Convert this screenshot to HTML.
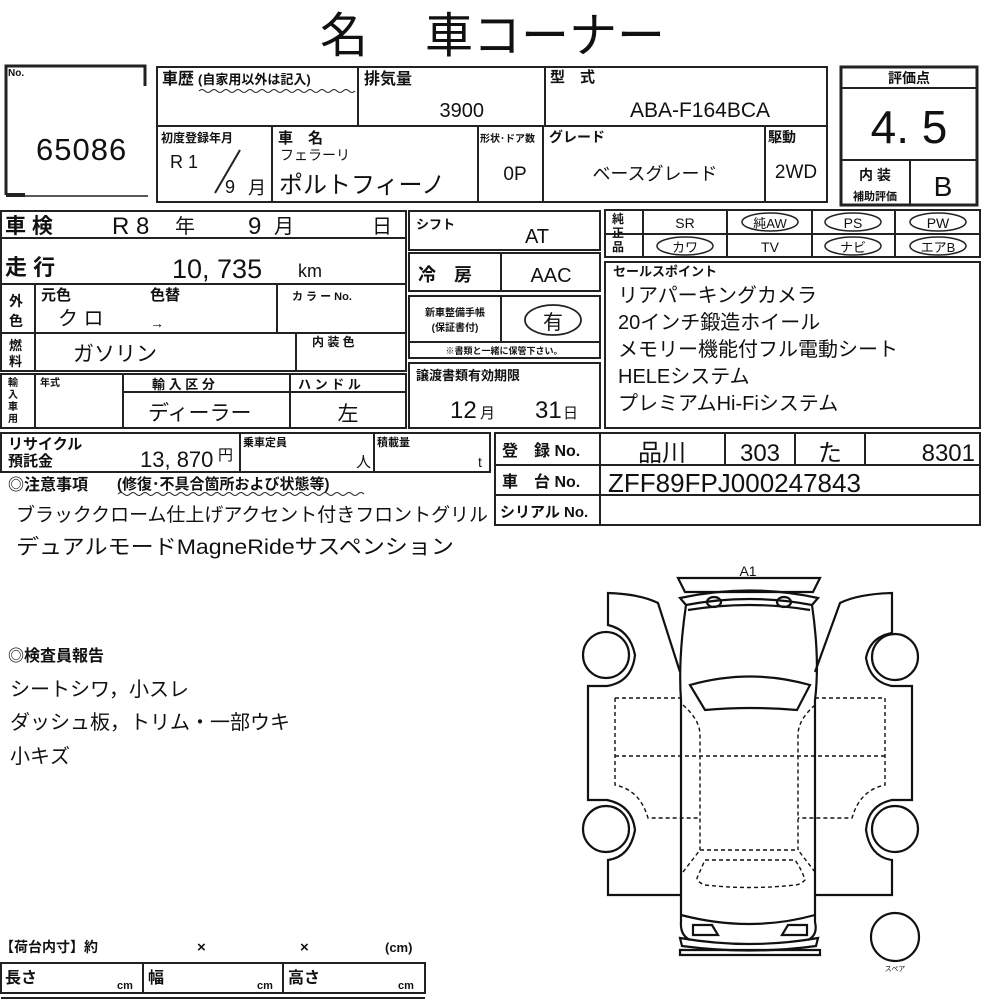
<!DOCTYPE html>
<html><head><meta charset="utf-8"><style>
html,body{margin:0;padding:0;background:#fff;}
svg{display:block;}
text{font-family:"Liberation Sans","Noto Sans CJK JP",sans-serif;fill:#111;}
.b{font-weight:bold;}
</style></head><body>
<svg width="1000" height="1000" viewBox="0 0 1000 1000" xmlns="http://www.w3.org/2000/svg">
<g stroke="#222" fill="none" stroke-width="2">
<path d="M6 195 V66 H145 V86" stroke-width="3"/>
<path d="M6 195 H25" stroke-width="4"/><path d="M25 196 H148" stroke-width="1.5"/>
<rect x="157" y="67" width="670" height="135"/>
<path d="M157 126 H827 M358 67 V126 M545 67 V126 M272 126 V202 M478 126 V202 M543 126 V202 M765 126 V202"/>
<path d="M215 193 L240 150"/>
<rect x="841" y="67" width="136" height="138" stroke-width="3"/>
<path d="M841 88 H977 M841 160 H977 M910 160 V205" stroke-width="2"/>
<rect x="1" y="211" width="405" height="160"/>
<path d="M1 238 H406 M1 284 H406 M1 333 H406 M35 284 V371 M277 284 V333 M296 333 V371"/>
<rect x="1" y="374" width="405" height="54"/>
<path d="M35 374 V428 M123 374 V428 M290 374 V428 M123 392 H406"/>
<rect x="409" y="211" width="191" height="39"/>
<rect x="409" y="253" width="191" height="38"/>
<path d="M501 253 V291"/>
<rect x="409" y="296" width="191" height="62"/>
<path d="M409 342 H600 M501 296 V342"/>
<ellipse cx="553" cy="320" rx="28" ry="15" stroke-width="1.8"/>
<rect x="409" y="363" width="191" height="65"/>
<rect x="605" y="210" width="375" height="47"/>
<path d="M605 234 H980 M643 210 V257 M727 210 V257 M812 210 V257 M895 210 V257"/>
<g stroke-width="1.5">
<ellipse cx="770" cy="222" rx="28" ry="9"/><ellipse cx="853" cy="222" rx="28" ry="9"/><ellipse cx="938" cy="222" rx="28" ry="9"/>
<ellipse cx="685" cy="246" rx="28" ry="9"/><ellipse cx="853" cy="246" rx="28" ry="9"/><ellipse cx="938" cy="246" rx="28" ry="9"/>
</g>
<rect x="605" y="262" width="375" height="166"/>
<rect x="1" y="433" width="489" height="39"/>
<path d="M240 433 V472 M374 433 V472"/>
<rect x="495" y="433" width="485" height="92"/>
<path d="M495 465 H980 M495 495 H980 M600 433 V525 M725 433 V465 M795 433 V465 M865 433 V465"/>
<path d="M118 494 q3 -3 6 0 t6 0 t6 0 t6 0 t6 0 t6 0 t6 0 t6 0 t6 0 t6 0 t6 0 t6 0 t6 0 t6 0 t6 0 t6 0 t6 0 t6 0 t6 0 t6 0 t6 0 t6 0 t6 0 t6 0 t6 0 t6 0 t6 0 t6 0 t6 0 t6 0 t6 0 t6 0 t6 0 t6 0 t6 0 t6 0 t6 0 t6 0 t6 0 t6 0 t6 0" stroke-width="1"/>
<path d="M199 91 q3 -3 6 0 t6 0 t6 0 t6 0 t6 0 t6 0 t6 0 t6 0 t6 0 t6 0 t6 0 t6 0 t6 0 t6 0 t6 0 t6 0 t6 0 t6 0 t6 0 t6 0 t6 0 t6 0 t6 0 t6 0 t6 0 t6 0" stroke-width="1"/>
<rect x="1" y="963" width="424" height="30"/>
<path d="M143 963 V993 M283 963 V993 M1 998 H425"/>
</g>

<text x="320" y="52" font-size="48">名</text>
<text x="425" y="52" font-size="48">車コーナー</text>

<text x="8" y="76" font-size="10" class="b">No.</text>
<text x="36" y="160" font-size="31" letter-spacing="1">65086</text>

<text x="162" y="84" font-size="16" class="b">車歴</text>
<text x="198" y="84" font-size="13" class="b">(自家用以外は記入)</text>
<text x="364" y="84" font-size="16" class="b">排気量</text>
<text x="484" y="117" font-size="20" text-anchor="end">3900</text>
<text x="550" y="82" font-size="15" class="b">型　式</text>
<text x="700" y="117" font-size="21" text-anchor="middle">ABA-F164BCA</text>

<text x="161" y="142" font-size="12" class="b">初度登録年月</text>
<text x="170" y="168" font-size="18">R 1</text>
<text x="225" y="193" font-size="18">9</text>
<text x="248" y="194" font-size="18">月</text>
<text x="278" y="143" font-size="15" class="b">車　名</text>
<text x="280" y="160" font-size="14">フェラーリ</text>
<text x="279" y="193" font-size="24">ポルトフィーノ</text>
<text x="480" y="142" font-size="10" class="b">形状･ドア数</text>
<text x="515" y="180" font-size="19" text-anchor="middle">0P</text>
<text x="549" y="142" font-size="14" class="b">グレード</text>
<text x="655" y="180" font-size="18" text-anchor="middle">ベースグレード</text>
<text x="768" y="142" font-size="14" class="b">駆動</text>
<text x="796" y="178" font-size="19" text-anchor="middle">2WD</text>

<text x="909" y="83" font-size="14" class="b" text-anchor="middle">評価点</text>
<text x="909" y="143" font-size="46" text-anchor="middle">4. 5</text>
<text x="875" y="180" font-size="14" class="b" text-anchor="middle">内 装</text>
<text x="875" y="200" font-size="11" class="b" text-anchor="middle">補助評価</text>
<text x="943" y="196" font-size="28" text-anchor="middle">B</text>

<text x="5" y="233" font-size="21" class="b">車 検</text>
<text x="112" y="234" font-size="24">R 8</text>
<text x="175" y="233" font-size="20">年</text>
<text x="248" y="234" font-size="24">9</text>
<text x="274" y="233" font-size="20">月</text>
<text x="372" y="233" font-size="20">日</text>
<text x="5" y="275" font-size="22" class="b">走 行</text>
<text x="172" y="278" font-size="27">10, 735</text>
<text x="298" y="277" font-size="18">km</text>
<text x="9" y="306" font-size="14" class="b">外</text>
<text x="9" y="326" font-size="14" class="b">色</text>
<text x="41" y="300" font-size="15" class="b">元色</text>
<text x="150" y="300" font-size="15" class="b">色替</text>
<text x="58" y="325" font-size="20">ク ロ</text>
<text x="150" y="328" font-size="14">→</text>
<text x="292" y="300" font-size="11" class="b">カ ラ ー No.</text>
<text x="9" y="350" font-size="13" class="b">燃</text>
<text x="9" y="366" font-size="13" class="b">料</text>
<text x="73" y="361" font-size="21">ガソリン</text>
<text x="312" y="346" font-size="12" class="b">内 装 色</text>
<text x="8" y="386" font-size="10" class="b">輸</text>
<text x="8" y="398" font-size="10" class="b">入</text>
<text x="8" y="410" font-size="10" class="b">車</text>
<text x="8" y="422" font-size="10" class="b">用</text>
<text x="40" y="386" font-size="10" class="b">年式</text>
<text x="152" y="389" font-size="13" class="b">輸 入 区 分</text>
<text x="298" y="389" font-size="13" class="b">ハ ン ド ル</text>
<text x="148" y="420" font-size="21">ディーラー</text>
<text x="348" y="421" font-size="21" text-anchor="middle">左</text>

<text x="416" y="229" font-size="13" class="b">シフト</text>
<text x="537" y="243" font-size="20" text-anchor="middle">AT</text>
<text x="418" y="281" font-size="18" class="b">冷　房</text>
<text x="551" y="282" font-size="20" text-anchor="middle">AAC</text>
<text x="455" y="316" font-size="10" class="b" text-anchor="middle">新車整備手帳</text>
<text x="455" y="331" font-size="10" class="b" text-anchor="middle">(保証書付)</text>
<text x="553" y="329" font-size="20" text-anchor="middle">有</text>
<text x="504" y="354" font-size="9" class="b" text-anchor="middle">※書類と一緒に保管下さい。</text>
<text x="416" y="380" font-size="13" class="b">譲渡書類有効期限</text>
<text x="450" y="418" font-size="24">12</text>
<text x="480" y="418" font-size="15">月</text>
<text x="535" y="418" font-size="24">31</text>
<text x="563" y="418" font-size="15">日</text>

<text x="612" y="223" font-size="12" class="b">純</text>
<text x="612" y="237" font-size="12" class="b">正</text>
<text x="612" y="251" font-size="12" class="b">品</text>
<text x="685" y="228" font-size="14" text-anchor="middle">SR</text>
<text x="770" y="228" font-size="13" text-anchor="middle">純AW</text>
<text x="853" y="228" font-size="14" text-anchor="middle">PS</text>
<text x="938" y="228" font-size="14" text-anchor="middle">PW</text>
<text x="685" y="252" font-size="13" text-anchor="middle">カワ</text>
<text x="770" y="252" font-size="14" text-anchor="middle">TV</text>
<text x="853" y="252" font-size="13" text-anchor="middle">ナビ</text>
<text x="938" y="252" font-size="13" text-anchor="middle">エアB</text>
<text x="613" y="276" font-size="13" class="b">セールスポイント</text>
<text x="618" y="302" font-size="20">リアパーキングカメラ</text>
<text x="618" y="329" font-size="20">20インチ鍛造ホイール</text>
<text x="618" y="356" font-size="20">メモリー機能付フル電動シート</text>
<text x="618" y="383" font-size="20">HELEシステム</text>
<text x="618" y="410" font-size="20">プレミアムHi-Fiシステム</text>

<text x="8" y="449" font-size="15" class="b">リサイクル</text>
<text x="8" y="466" font-size="15" class="b">預託金</text>
<text x="140" y="467" font-size="22">13, 870</text>
<text x="218" y="460" font-size="15">円</text>
<text x="243" y="446" font-size="11" class="b">乗車定員</text>
<text x="356" y="467" font-size="15">人</text>
<text x="377" y="446" font-size="11" class="b">積載量</text>
<text x="478" y="467" font-size="14">t</text>
<text x="502" y="456" font-size="16" class="b">登　録 No.</text>
<text x="502" y="487" font-size="16" class="b">車　台 No.</text>
<text x="500" y="517" font-size="15" class="b">シリアル No.</text>
<text x="662" y="461" font-size="24" text-anchor="middle">品川</text>
<text x="760" y="461" font-size="24" text-anchor="middle">303</text>
<text x="830" y="461" font-size="24" text-anchor="middle">た</text>
<text x="975" y="461" font-size="24" text-anchor="end">8301</text>
<text x="608" y="492" font-size="26">ZFF89FPJ000247843</text>

<text x="8" y="490" font-size="16" class="b">◎注意事項</text>
<text x="117" y="489" font-size="15" class="b">(修復･不具合箇所および状態等)</text>
<text x="16" y="521" font-size="19" textLength="472" lengthAdjust="spacingAndGlyphs">ブラッククローム仕上げアクセント付きフロントグリル</text>
<text x="16" y="554" font-size="21" textLength="438" lengthAdjust="spacingAndGlyphs">デュアルモードMagneRideサスペンション</text>
<text x="8" y="661" font-size="16" class="b">◎検査員報告</text>
<text x="10" y="696" font-size="20">シートシワ，小スレ</text>
<text x="10" y="729" font-size="20">ダッシュ板，トリム・一部ウキ</text>
<text x="10" y="763" font-size="20">小キズ</text>
<text x="0" y="952" font-size="14" class="b">【荷台内寸】約</text>
<text x="197" y="952" font-size="15" class="b">×</text>
<text x="300" y="952" font-size="15" class="b">×</text>
<text x="385" y="952" font-size="13" class="b">(cm)</text>
<text x="5" y="983" font-size="16" class="b">長さ</text><text x="117" y="989" font-size="11" class="b">cm</text>
<text x="148" y="983" font-size="16" class="b">幅</text><text x="257" y="989" font-size="11" class="b">cm</text>
<text x="288" y="983" font-size="16" class="b">高さ</text><text x="398" y="989" font-size="11" class="b">cm</text>

<text x="748" y="576" font-size="14" text-anchor="middle">A1</text>
<g stroke="#111" fill="none" stroke-width="2.2">
<path d="M678 578 H820 L813 592 H685 Z"/>
<path d="M680 598 Q750 583 818 598 L812 605 Q750 593 686 605 Z"/>
<ellipse cx="714" cy="602" rx="7" ry="5"/><ellipse cx="784" cy="602" rx="7" ry="5"/>
<path d="M688 610 Q750 600 810 610"/>
<path d="M686 605 Q678 660 681 700 V922 Q680 935 690 940 M812 605 Q820 660 815 700 V922 Q818 935 808 940"/>
<path d="M690 685 Q750 668 810 685 L797 710 Q750 706 705 710 Z"/>
<path d="M681 915 Q750 933 815 915"/>
<path d="M693 925 H712 L718 935 H693 Z M807 925 H788 L782 935 H807 Z"/>
<path d="M680 938 Q750 950 818 938 L816 946 Q750 955 682 946 Z"/>
<path d="M680 950 H820 V955 H680 Z"/>
<path d="M680 672 L658 603 Q640 594 608 593 V625 Q630 630 635 655 Q632 682 607 686 V686 H588 V800 H607 Q632 805 635 830 Q630 857 608 860 V895 H681"/>
<path d="M815 672 L840 603 Q858 594 892 593 V633 Q870 637 866 658 Q870 682 892 686 H912 V800 H892 Q868 805 866 830 Q870 857 892 860 V895 H815"/>
<circle cx="606" cy="655" r="23"/><circle cx="606" cy="829" r="23"/>
<circle cx="895" cy="657" r="23"/><circle cx="895" cy="829" r="23"/>
<circle cx="895" cy="937" r="24"/>
</g>
<g stroke="#111" fill="none" stroke-width="1.4" stroke-dasharray="4,3">
<path d="M615 698 H681 M815 698 H885 V785 Q860 790 852 818 H798 M615 698 V785 Q640 790 648 818 H700"/>
<path d="M615 756 H885"/>
<path d="M683 705 Q700 720 700 735 V850 M815 705 Q798 720 798 735 V850"/>
<path d="M700 850 H798 M683 872 L700 850 M815 872 L798 850"/>
<path d="M705 860 H795 Q802 870 805 880 Q800 885 795 885 Q750 890 705 885 Q697 882 697 878 Z"/>
</g>
<text x="895" y="971" font-size="7" text-anchor="middle">スペア</text>
</svg>
</body></html>
